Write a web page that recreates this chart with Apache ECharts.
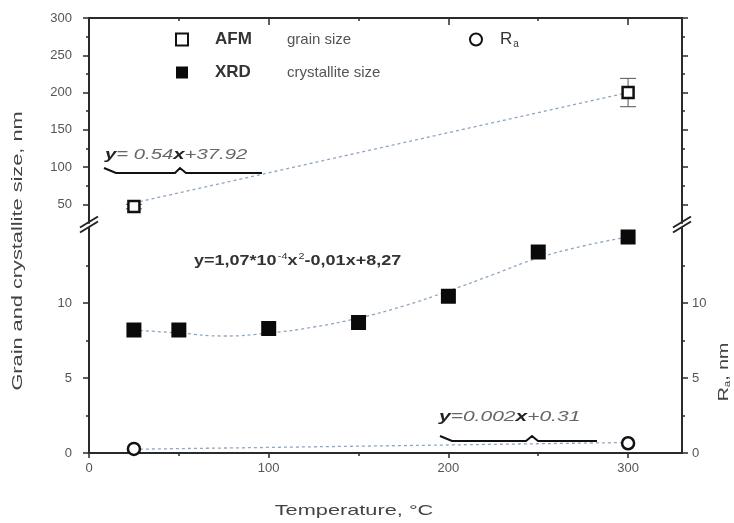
<!DOCTYPE html>
<html>
<head>
<meta charset="utf-8">
<script src="https://cdn.jsdelivr.net/npm/echarts@6/dist/echarts.min.js"></script>
<style>
  html, body { margin: 0; padding: 0; background: #fff; }
  #chart { width: 734px; height: 523px; }
</style>
</head>
<body>
<div id="chart"></div>
<script>
// tick labels
const tempTicks = [0, 100, 200, 300];
const tempMinorTicks = [50, 150, 250];
const upperTicks = [50, 100, 150, 200, 250, 300];
const upperMinorTicks = [75, 125, 175, 225, 275];
const lowerTicks = [0, 5, 10];
const lowerMinorTicks = [2.5, 7.5, 12.5];

// AFM grain size (upper panel)
const afmTemp = [25, 300];
const afmSize = [47, 200];
const afmErr = [3, 19];
const afmFitTemp = [25, 300];
const afmFitSize = [52, 200];

// XRD crystallite size (lower panel)
const xrdTemp = [25, 50, 100, 150, 200, 250, 300];
const xrdSize = [8.2, 8.2, 8.3, 8.7, 10.45, 13.4, 14.4];
const xrdFitTemp = [25, 50, 75, 100, 125, 150, 175, 200, 225, 250, 275, 300];
const xrdFitSize = [8.2, 8.0, 7.8, 8.0, 8.4, 9.0, 9.8, 10.8, 11.9, 13.0, 13.8, 14.4];

// Ra roughness (right axis)
const raTemp = [25, 300];
const raVal = [0.27, 0.65];
const raFitTemp = [25, 300];
const raFitVal = [0.25, 0.7];

const legendSub = { AFM: 'grain size', XRD: 'crystallite size' };

const FONT = '"Liberation Sans", Arial, sans-serif';
const AX = '#2a2a2a';
const LABEL = '#555';
const FIT = '#8ea6bf';
const LEFT = 89, RIGHT = 52, TOP = 18, UPPER_H = 205, LOWER_TOP = 228, LOWER_H = 225;
const X_MAX = 330, UP_MIN = 25, UP_MAX = 300, LOW_MAX = 15;

const chart = echarts.init(document.getElementById('chart'));

const pairs = (xs, ys) => xs.map((x, i) => [x, ys[i]]);

function xAxisDef(grid, position, ticks, len, inside, labels) {
  return {
    gridIndex: grid, type: 'value', position: position, min: 0, max: X_MAX,
    axisLine: { show: labels !== null, onZero: false, lineStyle: { color: AX, width: 2 } },
    axisTick: { show: true, inside: inside, length: len, customValues: ticks, lineStyle: { color: AX, width: 1.5 } },
    axisLabel: labels ? { show: true, customValues: labels, margin: 9, color: LABEL, fontSize: 13, fontFamily: FONT } : { show: false },
    splitLine: { show: false }
  };
}
function yAxisDef(grid, position, min, max, ticks, len, labels, showLine) {
  return {
    gridIndex: grid, type: 'value', position: position, min: min, max: max,
    axisLine: { show: showLine, onZero: false, lineStyle: { color: AX, width: 2 } },
    axisTick: { show: true, length: len, customValues: ticks, lineStyle: { color: AX, width: 1.5 } },
    axisLabel: labels ? { show: true, customValues: labels, margin: position === 'left' ? 17 : 10, color: LABEL, fontSize: 13, fontFamily: FONT } : { show: false },
    splitLine: { show: false }
  };
}

function breakMark(cx, cy) {
  return {
    type: 'group', x: cx, y: cy, z: 100,
    children: [
      { type: 'polygon', shape: { points: [[-8, 2.5], [8, -7.5], [8, -2.5], [-8, 7.5]] }, style: { fill: '#fff' } },
      { type: 'line', shape: { x1: -9, y1: 3, x2: 9, y2: -8 }, style: { stroke: '#222', lineWidth: 2 } },
      { type: 'line', shape: { x1: -9, y1: 8, x2: 9, y2: -3 }, style: { stroke: '#222', lineWidth: 2 } }
    ]
  };
}

const option = {
  animation: false,
  textStyle: { fontFamily: FONT },
  grid: [
    { left: LEFT, right: RIGHT, top: TOP, height: UPPER_H, outerBoundsMode: 'none' },
    { left: LEFT, right: RIGHT, top: LOWER_TOP, height: LOWER_H, outerBoundsMode: 'none' }
  ],
  legend: [
    {
      data: ['AFM', 'XRD'], orient: 'vertical', left: 175, top: 31, padding: 0,
      itemWidth: 12, itemHeight: 12, itemGap: 16, selectedMode: false,
      formatter: name => '{a|' + name + '}{b|' + legendSub[name] + '}',
      textStyle: {
        rich: {
          a: { fontSize: 17, fontWeight: 'bold', color: '#333', width: 72, padding: [0, 0, 0, 22], lineHeight: 19, fontFamily: FONT },
          b: { fontSize: 15, color: '#555', lineHeight: 19, fontFamily: FONT }
        }
      }
    },
    {
      data: ['Ra'], left: 469, top: 31, padding: 0,
      itemWidth: 12, itemHeight: 12, selectedMode: false,
      formatter: '{a|R}{s|a}',
      textStyle: {
        rich: {
          a: { fontSize: 17, color: '#333', padding: [0, 0, 0, 13], lineHeight: 19, fontFamily: FONT },
          s: { fontSize: 10, color: '#333', padding: [9, 0, 0, 1], fontFamily: FONT }
        }
      }
    }
  ],
  xAxis: [
    xAxisDef(0, 'top', tempTicks, 7, true, undefined),
    xAxisDef(0, 'top', tempMinorTicks, 3, true, null),
    xAxisDef(1, 'bottom', tempTicks, 5, false, tempTicks),
    xAxisDef(1, 'bottom', tempMinorTicks, 3, false, null)
  ],
  yAxis: [
    yAxisDef(0, 'left', UP_MIN, UP_MAX, upperTicks, 6, upperTicks, true),
    yAxisDef(0, 'left', UP_MIN, UP_MAX, upperMinorTicks, 3, null, false),
    yAxisDef(0, 'right', UP_MIN, UP_MAX, upperTicks, 6, null, true),
    yAxisDef(0, 'right', UP_MIN, UP_MAX, upperMinorTicks, 3, null, false),
    yAxisDef(1, 'left', 0, LOW_MAX, lowerTicks, 6, lowerTicks, true),
    yAxisDef(1, 'left', 0, LOW_MAX, lowerMinorTicks, 3, null, false),
    yAxisDef(1, 'right', 0, LOW_MAX, lowerTicks, 6, lowerTicks, true),
    yAxisDef(1, 'right', 0, LOW_MAX, lowerMinorTicks, 3, null, false)
  ],
  series: [
    {
      name: 'AFM fit', type: 'line', xAxisIndex: 0, yAxisIndex: 0,
      data: pairs(afmFitTemp, afmFitSize), symbol: 'none', z: 1,
      lineStyle: { color: FIT, width: 1.3, type: [3, 3] }
    },
    {
      name: 'AFM error', type: 'custom', xAxisIndex: 0, yAxisIndex: 0, z: 2,
      data: afmTemp.map((t, i) => [t, afmSize[i], afmErr[i]]),
      renderItem: (params, api) => {
        const x = api.value(0), y = api.value(1), e = api.value(2);
        const top = api.coord([x, y + e]);
        const bot = api.coord([x, y - e]);
        const st = { stroke: '#555', lineWidth: 1 };
        return {
          type: 'group',
          children: [
            { type: 'line', shape: { x1: top[0], y1: top[1], x2: bot[0], y2: bot[1] }, style: st },
            { type: 'line', shape: { x1: top[0] - 8, y1: top[1], x2: top[0] + 8, y2: top[1] }, style: st },
            { type: 'line', shape: { x1: bot[0] - 8, y1: bot[1], x2: bot[0] + 8, y2: bot[1] }, style: st }
          ]
        };
      }
    },
    {
      name: 'AFM', type: 'scatter', xAxisIndex: 0, yAxisIndex: 0, z: 3,
      data: pairs(afmTemp, afmSize), symbol: 'rect', symbolSize: 11,
      itemStyle: { color: '#fff', borderColor: '#111', borderWidth: 2.5, opacity: 1 }
    },
    {
      name: 'XRD fit', type: 'line', xAxisIndex: 2, yAxisIndex: 4,
      data: pairs(xrdFitTemp, xrdFitSize), symbol: 'none', smooth: true, z: 1,
      lineStyle: { color: FIT, width: 1.3, type: [3, 3] }
    },
    {
      name: 'XRD', type: 'scatter', xAxisIndex: 2, yAxisIndex: 4, z: 3,
      data: pairs(xrdTemp, xrdSize), symbol: 'rect', symbolSize: 15,
      itemStyle: { color: '#0a0a0a', opacity: 1 }
    },
    {
      name: 'Ra fit', type: 'line', xAxisIndex: 2, yAxisIndex: 6,
      data: pairs(raFitTemp, raFitVal), symbol: 'none', z: 1,
      lineStyle: { color: FIT, width: 1.3, type: [3, 3] }
    },
    {
      name: 'Ra', type: 'scatter', xAxisIndex: 2, yAxisIndex: 6, z: 3,
      data: pairs(raTemp, raVal), symbol: 'circle', symbolSize: 12,
      itemStyle: { color: '#fff', borderColor: '#111', borderWidth: 2.5, opacity: 1 }
    }
  ],
  graphic: [
    breakMark(LEFT, LOWER_TOP - 3.5),
    breakMark(734 - RIGHT, LOWER_TOP - 3.5),
    {
      type: 'text', x: 105, y: 155, scaleX: 1.45, z: 50,
      style: {
        text: '{b|y}{n|= 0.54}{b|x}{n|+37.92}', verticalAlign: 'middle',
        rich: {
          b: { fontSize: 14, fontStyle: 'italic', fontWeight: 'bold', fill: '#222', fontFamily: FONT },
          n: { fontSize: 14, fontStyle: 'italic', fill: '#666', fontFamily: FONT }
        }
      }
    },
    {
      type: 'polyline', z: 50,
      shape: { points: [[104, 168], [116, 173], [175, 173], [180, 168], [186, 173], [262, 173]] },
      style: { stroke: '#111', lineWidth: 2, fill: null }
    },
    {
      type: 'text', x: 194, y: 261, scaleX: 1.2, z: 50,
      style: {
        text: '{n|y=1,07*10}{sup|-4}{n|x}{sup|2}{n|-0,01x+8,27}', verticalAlign: 'middle',
        rich: {
          n: { fontSize: 15, fontWeight: 'bold', fill: '#333', fontFamily: FONT },
          sup: { fontSize: 9, fill: '#333', padding: [0, 0, 9, 1], fontFamily: FONT }
        }
      }
    },
    {
      type: 'text', x: 439, y: 417, scaleX: 1.5, z: 50,
      style: {
        text: '{b|y}{n|=0.002}{b|x}{n|+0.31}', verticalAlign: 'middle',
        rich: {
          b: { fontSize: 14, fontStyle: 'italic', fontWeight: 'bold', fill: '#222', fontFamily: FONT },
          n: { fontSize: 14, fontStyle: 'italic', fill: '#666', fontFamily: FONT }
        }
      }
    },
    {
      type: 'polyline', z: 50,
      shape: { points: [[440, 436], [452, 441], [526, 441], [532, 436], [538, 441], [597, 441]] },
      style: { stroke: '#111', lineWidth: 2, fill: null }
    },
    {
      type: 'text', x: 18, y: 251, rotation: Math.PI / 2, scaleX: 1.45,
      style: { text: 'Grain and crystallite size, nm', align: 'center', verticalAlign: 'middle', fontSize: 15, fill: '#444', fontFamily: FONT }
    },
    {
      type: 'text', x: 724, y: 372, rotation: Math.PI / 2, scaleX: 1.3,
      style: {
        text: '{a|R}{s|a}{a|, nm}', align: 'center', verticalAlign: 'middle',
        rich: {
          a: { fontSize: 15, fill: '#444', fontFamily: FONT },
          s: { fontSize: 9, fill: '#444', padding: [8, 0, 0, 0], fontFamily: FONT }
        }
      }
    },
    {
      type: 'text', x: 354, y: 511, scaleX: 1.45,
      style: { text: 'Temperature, °C', align: 'center', verticalAlign: 'middle', fontSize: 15, fill: '#444', fontFamily: FONT }
    }
  ]
};

chart.setOption(option);
</script>
</body>
</html>
